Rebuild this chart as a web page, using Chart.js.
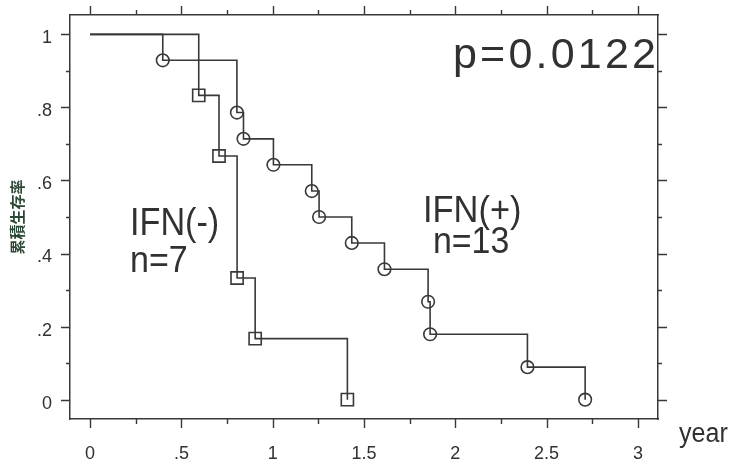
<!DOCTYPE html>
<html>
<head>
<meta charset="utf-8">
<script src="https://cdn.jsdelivr.net/npm/chart.js@4/dist/chart.umd.min.js"></script>
<style>
  html, body { margin: 0; padding: 0; background: #fff; }
  #wrap { width: 734px; height: 464px; }
</style>
</head>
<body>
<div id="wrap"><canvas id="km" width="734" height="464"></canvas></div>
<script>
// Kaplan-Meier estimates: event times (years) and cumulative survival
const ifnPosTimes = [0, 0.398, 0.804, 0.840, 1.004, 1.214, 1.254, 1.433, 1.612, 1.851, 1.862, 2.395, 2.711];
const ifnPosSurv  = [1, 0.929, 0.786, 0.714, 0.643, 0.571, 0.500, 0.429, 0.357, 0.268, 0.179, 0.089, 0];
const ifnNegTimes = [0, 0.595, 0.706, 0.805, 0.904, 1.409];
const ifnNegSurv  = [1, 0.833, 0.667, 0.333, 0.167, 0];

// Axis ticks
const xTicks = [0, 0.5, 1, 1.5, 2, 2.5, 3];
const xTickLabels = ['0', '.5', '1', '1.5', '2', '2.5', '3'];
const xMinorTicks = [0.25, 0.75, 1.25, 1.75, 2.25, 2.75];
const yTicks = [0, 0.2, 0.4, 0.6, 0.8, 1];
const yTickLabels = ['0', '.2', '.4', '.6', '.8', '1'];
const yMinorTicks = [0.1, 0.3, 0.5, 0.7, 0.9];

const INK = '#383838';
const TEXT = '#313131';
const FONT = '"Liberation Sans", Arial, sans-serif';

const toPoints = (times, surv) => times.map((t, i) => ({ x: t, y: surv[i] }));

// Fix each axis band to an exact size and drop the label overhang padding
const fixBand = (w, h) => s => {
  if (w !== null) s.width = w;
  if (h !== null) s.height = h;
  s.paddingTop = 0; s.paddingBottom = 0; s.paddingLeft = 0; s.paddingRight = 0;
};

// Outward tick marks on all four sides of the frame
const frameTicks = {
  id: 'frameTicks',
  afterDraw(chart) {
    const { ctx, chartArea: a, scales } = chart;
    const x = scales.x, y = scales.y;
    ctx.save();
    ctx.strokeStyle = INK;
    ctx.lineWidth = 1.4;
    ctx.beginPath();
    const vTick = (v, len) => {
      const p = Math.round(x.getPixelForValue(v)) + 0.5;
      ctx.moveTo(p, a.bottom); ctx.lineTo(p, a.bottom + len);
      ctx.moveTo(p, a.top); ctx.lineTo(p, a.top - len);
    };
    const hTick = (v, len) => {
      const p = Math.round(y.getPixelForValue(v)) + 0.5;
      ctx.moveTo(a.left, p); ctx.lineTo(a.left - len, p);
      ctx.moveTo(a.right, p); ctx.lineTo(a.right + len, p);
    };
    xTicks.forEach(v => vTick(v, 9));
    xMinorTicks.forEach(v => vTick(v, 5));
    yTicks.forEach(v => hTick(v, 9));
    yMinorTicks.forEach(v => hTick(v, 4));
    ctx.stroke();
    ctx.restore();
  }
};

// Group labels, p-value and x-axis unit
const notes = {
  id: 'notes',
  afterDraw(chart) {
    const ctx = chart.ctx;
    const put = (text, x, y, size, hscale, spacing) => {
      ctx.save();
      ctx.translate(x, y);
      ctx.scale(hscale, 1);
      ctx.font = size + 'px ' + FONT;
      ctx.fillStyle = TEXT;
      ctx.textBaseline = 'alphabetic';
      ctx.textAlign = 'left';
      let cx = 0;
      for (const ch of text) {
        ctx.fillText(ch, cx, 0);
        cx += ctx.measureText(ch).width + (spacing || 0);
      }
      ctx.restore();
    };
    put('IFN(-)', 130, 235, 38, 0.9);
    put('n=7', 130, 272, 37, 0.92);
    put('IFN(+)', 423, 222, 37, 0.93);
    put('n=13', 433, 253, 36, 0.94);
    put('p=0.0122', 453, 68, 43, 1.0, 3.2);
    put('year', 679, 442, 27, 0.93);
  }
};

const curveStyle = {
  borderColor: INK,
  borderWidth: 1.6,
  stepped: 'before',
  fill: false,
  tension: 0,
  pointBorderColor: INK,
  pointBackgroundColor: 'rgba(0,0,0,0)',
  pointBorderWidth: 1.6,
  pointHoverRadius: 0
};

const axisBorder = { display: true, color: INK, width: 1.5 };
const noGrid = { display: true, drawOnChartArea: false, drawTicks: false };

new Chart(document.getElementById('km'), {
  type: 'line',
  data: {
    datasets: [
      Object.assign({}, curveStyle, {
        label: 'IFN(+)',
        data: toPoints(ifnPosTimes, ifnPosSurv),
        pointStyle: 'circle',
        pointRadius: ctx => (ctx.dataIndex === 0 ? 0 : 6.3)
      }),
      Object.assign({}, curveStyle, {
        label: 'IFN(-)',
        data: toPoints(ifnNegTimes, ifnNegSurv),
        pointStyle: 'rect',
        pointRadius: ctx => (ctx.dataIndex === 0 ? 0 : 8.6)
      })
    ]
  },
  options: {
    responsive: false,
    animation: false,
    devicePixelRatio: 1,
    layout: { padding: 0 },
    plugins: { legend: { display: false }, tooltip: { enabled: false } },
    scales: {
      x: {
        type: 'linear', position: 'bottom', min: -0.11, max: 3.11,
        afterBuildTicks: s => { s.ticks = xTicks.map(v => ({ value: v })); },
        afterFit: fixBand(null, 45),
        ticks: {
          callback: (v, i) => xTickLabels[i],
          font: { family: FONT, size: 18 }, color: TEXT,
          padding: 24, maxRotation: 0, autoSkip: false
        },
        grid: noGrid, border: axisBorder
      },
      xTop: {
        type: 'linear', position: 'top', min: -0.11, max: 3.11,
        afterFit: fixBand(null, 15),
        ticks: { display: false },
        grid: noGrid, border: axisBorder
      },
      y: {
        type: 'linear', position: 'left', min: -0.053, max: 1.053,
        afterBuildTicks: s => { s.ticks = yTicks.map(v => ({ value: v })); },
        afterFit: fixBand(70, null),
        ticks: {
          callback: (v, i) => yTickLabels[i],
          font: { family: FONT, size: 18 }, color: TEXT,
          padding: 18, labelOffset: 4, autoSkip: false
        },
        title: {
          display: true, text: '累積生存率',
          font: { family: '"Noto Sans CJK JP", "Noto Sans CJK SC", sans-serif', size: 15, weight: 'bold' },
          color: '#2c4735', padding: { top: 8, bottom: 0 }
        },
        grid: noGrid, border: axisBorder
      },
      yRight: {
        type: 'linear', position: 'right', min: -0.053, max: 1.053,
        afterFit: fixBand(76, null),
        ticks: { display: false },
        grid: noGrid, border: axisBorder
      }
    }
  },
  plugins: [frameTicks, notes]
});
</script>
</body>
</html>
